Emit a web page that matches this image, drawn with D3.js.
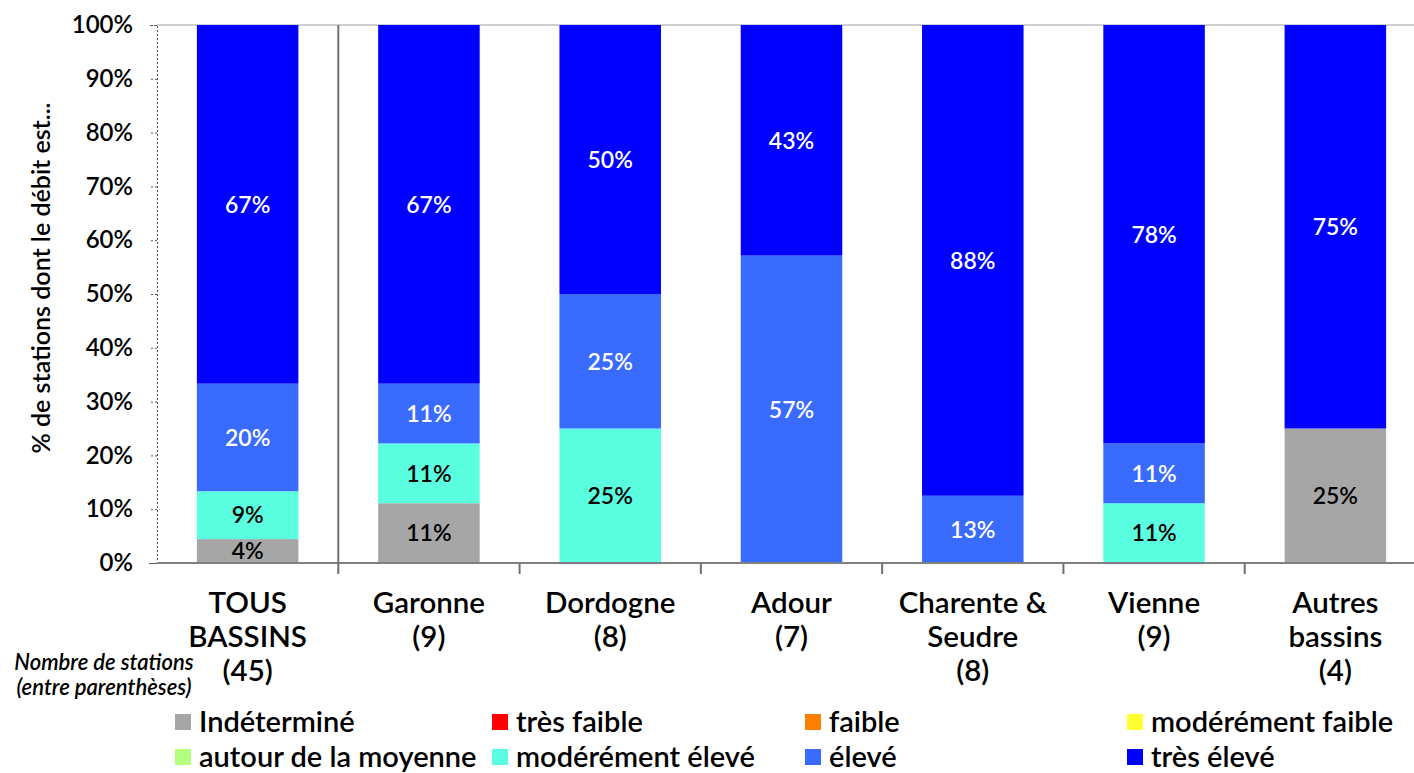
<!DOCTYPE html>
<html>
<head>
<meta charset="utf-8">
<script src="https://cdn.jsdelivr.net/npm/d3@7"></script>
<style>
  body { margin: 0; background: #fff; }
  svg { font-family: Lato, "Open Sans", sans-serif; font-weight: 600; }
</style>
</head>
<body>
<div class="chart"></div>
<script>
// categories and station counts per class (percent = count / total)
var categories = [["TOUS", "BASSINS", "(45)"], ["Garonne", "(9)"], ["Dordogne", "(8)"], ["Adour", "(7)"],
  ["Charente &", "Seudre", "(8)"], ["Vienne", "(9)"], ["Autres", "bassins", "(4)"]];
var totals = [45, 9, 8, 7, 8, 9, 4];
var seriesNames = ["Indéterminé", "très faible", "faible", "modérément faible",
  "autour de la moyenne", "modérément élevé", "élevé", "très élevé"];
var seriesColors = ["#a6a6a6", "#ff0000", "#ff7f00", "#ffff33", "#b3ff80", "#5affe0", "#3a6bff", "#0000ff"];
var indetermine = [2, 1, 0, 0, 0, 0, 1];
var tresFaible = [0, 0, 0, 0, 0, 0, 0];
var faible = [0, 0, 0, 0, 0, 0, 0];
var moderementFaible = [0, 0, 0, 0, 0, 0, 0];
var autourMoyenne = [0, 0, 0, 0, 0, 0, 0];
var moderementEleve = [4, 1, 2, 0, 0, 1, 0];
var eleve = [9, 1, 2, 4, 1, 1, 0];
var tresEleve = [30, 6, 4, 3, 7, 7, 3];
var yTicks = [0, 10, 20, 30, 40, 50, 60, 70, 80, 90, 100];

var series = [indetermine, tresFaible, faible, moderementFaible, autourMoyenne, moderementEleve, eleve, tresEleve];
var darkText = [true, false, false, true, true, true, false, false];

var W = 1414, H = 773;
var plot = {left: 157, right: 1426, top: 25, bottom: 563};

var svg = d3.select(".chart").append("svg")
  .attr("width", W).attr("height", H);

var x = d3.scaleBand()
  .domain(d3.range(categories.length))
  .range([plot.left, plot.right])
  .paddingInner(0.44).paddingOuter(0.22);
var y = d3.scaleLinear().domain([0, 100]).range([plot.bottom, plot.top]);

// rows for stacking
var rows = totals.map(function(t, i) {
  var r = {i: i};
  series.forEach(function(s, k) { r[k] = s[i] / t * 100; });
  return r;
});
var stack = d3.stack().keys(d3.range(series.length))(rows);

// top gridline
svg.append("line")
  .attr("x1", plot.left).attr("x2", W)
  .attr("y1", y(100)).attr("y2", y(100))
  .attr("stroke", "#d0d0d0").attr("stroke-width", 2);

var layers = svg.selectAll(".layer").data(stack).enter()
  .append("g").attr("class", "layer")
  .attr("fill", function(d) { return seriesColors[d.key]; });

layers.selectAll("rect").data(function(d) { return d; }).enter()
  .append("rect")
  .attr("x", function(d) { return x(d.data.i); })
  .attr("width", x.bandwidth())
  .attr("y", function(d) { return y(d[1]); })
  .attr("height", function(d) { return y(d[0]) - y(d[1]); });

// value labels
stack.forEach(function(layer) {
  svg.append("g").selectAll("text")
    .data(layer.filter(function(d) { return d[1] - d[0] > 0; }))
    .enter().append("text")
    .attr("x", function(d) { return x(d.data.i) + x.bandwidth() / 2; })
    .attr("y", function(d) { return (y(d[0]) + y(d[1])) / 2; })
    .attr("dy", "0.36em")
    .attr("text-anchor", "middle")
    .attr("font-size", 23)
    .attr("fill", darkText[layer.key] ? "#000" : "#fff")
    .text(function(d) { return Math.round(d[1] - d[0]) + "%"; });
});

// y axis
var yAxis = d3.axisLeft(y).tickValues(yTicks).tickSize(8).tickPadding(16)
  .tickFormat(function(d) { return d + "%"; });
var gy = svg.append("g").attr("transform", "translate(" + plot.left + ",0)").call(yAxis);
gy.select(".domain").attr("stroke", "#555").attr("stroke-dasharray", "2,2");
gy.selectAll(".tick line").attr("stroke", "#555").attr("stroke-dasharray", "2,2");
gy.selectAll("text").attr("font-size", 24).attr("font-family", "Lato").attr("font-weight", 600).attr("fill", "#000");

// x axis line and category ticks
svg.append("line")
  .attr("x1", plot.left).attr("x2", W)
  .attr("y1", plot.bottom).attr("y2", plot.bottom)
  .attr("stroke", "#808080").attr("stroke-width", 2);
var step = x.step();
svg.append("g").selectAll("line").data(d3.range(1, categories.length)).enter()
  .append("line")
  .attr("x1", function(d) { return x(d) - x.paddingInner() * step / 2; })
  .attr("x2", function(d) { return x(d) - x.paddingInner() * step / 2; })
  .attr("y1", function(d) { return d === 1 ? plot.top : plot.bottom; })
  .attr("y2", plot.bottom + 11)
  .attr("stroke", "#707070").attr("stroke-width", 2);

// category labels
var cl = svg.append("g").selectAll("text").data(categories).enter()
  .append("text")
  .attr("text-anchor", "middle")
  .attr("font-size", 29.5)
  .attr("fill", "#000");
cl.selectAll("tspan").data(function(d, i) { return d.map(function(t) { return {t: t, i: i}; }); })
  .enter().append("tspan")
  .attr("x", function(d) { return x(d.i) + x.bandwidth() / 2; })
  .attr("y", function(d, j) { return 613 + j * 34; })
  .text(function(d) { return d.t; });

// note
svg.append("text").attr("x", 104).attr("y", 670).attr("text-anchor", "middle")
  .attr("font-size", 22).attr("font-style", "italic").text("Nombre de stations");
svg.append("text").attr("x", 104).attr("y", 695).attr("text-anchor", "middle")
  .attr("font-size", 22).attr("font-style", "italic").text("(entre parenthèses)");

// y title
svg.append("text")
  .attr("transform", "translate(50,278) rotate(-90)")
  .attr("text-anchor", "middle")
  .attr("font-size", 25)
  .text("% de stations dont le débit est...");

// legend
var legX = [175, 492, 805, 1127];
var legY = [722, 757];
var leg = svg.append("g").selectAll("g").data(seriesNames).enter()
  .append("g")
  .attr("transform", function(d, i) { return "translate(" + legX[i % 4] + "," + legY[Math.floor(i / 4)] + ")"; });
leg.append("rect").attr("x", 0).attr("y", -8).attr("width", 16).attr("height", 16)
  .attr("fill", function(d, i) { return seriesColors[i]; });
leg.append("text").attr("x", 24).attr("dy", "0.36em")
  .attr("font-size", 29).text(function(d) { return d; });
</script>
</body>
</html>
